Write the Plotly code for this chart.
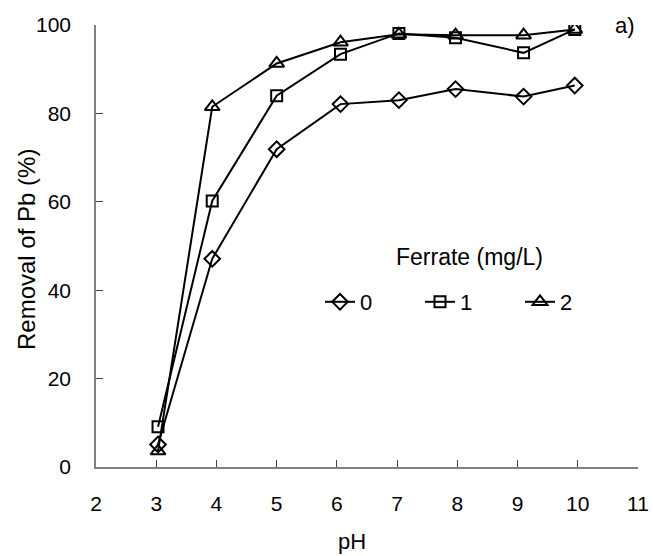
import plotly.graph_objects as go

ph = [3.03, 3.93, 5.0, 6.06, 7.03, 7.97, 9.1, 9.95]
series_names = ["0", "1", "2"]
removal_0 = [5.1, 47.1, 71.9, 82.1, 83.0, 85.5, 83.8, 86.3]
removal_1 = [9.1, 60.2, 84.0, 93.4, 98.1, 97.1, 93.7, 99.0]
removal_2 = [3.6, 81.5, 91.3, 96.1, 97.9, 97.7, 97.7, 99.0]
symbols = ["diamond-open", "square-open", "triangle-up-open"]
sizes = [12, 11, 13]

x_ticks = [2, 3, 4, 5, 6, 7, 8, 9, 10, 11]
y_ticks = [0, 20, 40, 60, 80, 100]

FONT = "Liberation Sans, Arial, sans-serif"
W, H = 653, 556
l, r, t, b = 96, 15, 25, 89
pw, phh = W - l - r, H - t - b

fig = go.Figure()
for name, vals, sym, sz in zip(series_names, [removal_0, removal_1, removal_2], symbols, sizes):
    fig.add_trace(go.Scatter(
        x=ph, y=vals, name=name, mode="lines+markers",
        line=dict(color="black", width=2),
        marker=dict(symbol=sym, size=sz, color="black", line=dict(width=2, color="black")),
    ))

axis_common = dict(
    showgrid=False, zeroline=False, automargin=False,
    showline=True, linecolor="#808080", linewidth=1.5,
    ticks="inside", ticklen=7, tickcolor="#404040", tickwidth=1,
    tickfont=dict(size=21),
)


def ann(text, px, py, size=22, angle=0):
    return dict(text=text, x=(px - l) / pw, y=(H - b - py) / phh, xref="paper", yref="paper",
                xanchor="center", yanchor="middle", showarrow=False, textangle=angle,
                font=dict(size=size))


fig.update_layout(
    width=W, height=H,
    margin=dict(l=l, r=r, t=t, b=b),
    paper_bgcolor="white", plot_bgcolor="white",
    font=dict(family=FONT, size=21, color="black"),
    showlegend=True,
    legend=dict(
        orientation="h", x=(320 - l) / pw, y=(H - b - 302) / phh, xanchor="left", yanchor="middle",
        font=dict(size=22), bgcolor="rgba(0,0,0,0)",
        entrywidth=55, entrywidthmode="pixels", tracegroupgap=0,
    ),
    xaxis=dict(range=[2, 11], tickvals=x_ticks, ticklabelstandoff=17, **axis_common),
    yaxis=dict(range=[0, 100], tickvals=y_ticks, ticklabelstandoff=19, **axis_common),
    annotations=[
        ann("a)", 625, 25, 22),
        ann("pH", 352, 541, 22),
        ann("Removal of Pb (%)", 26, 250, 24, -90),
        ann("Ferrate (mg/L)", 469, 257, 23),
    ],
)

fig.write_html("out.html", config={"displayModeBar": False},
               post_script="document.body.style.margin='0px';")
